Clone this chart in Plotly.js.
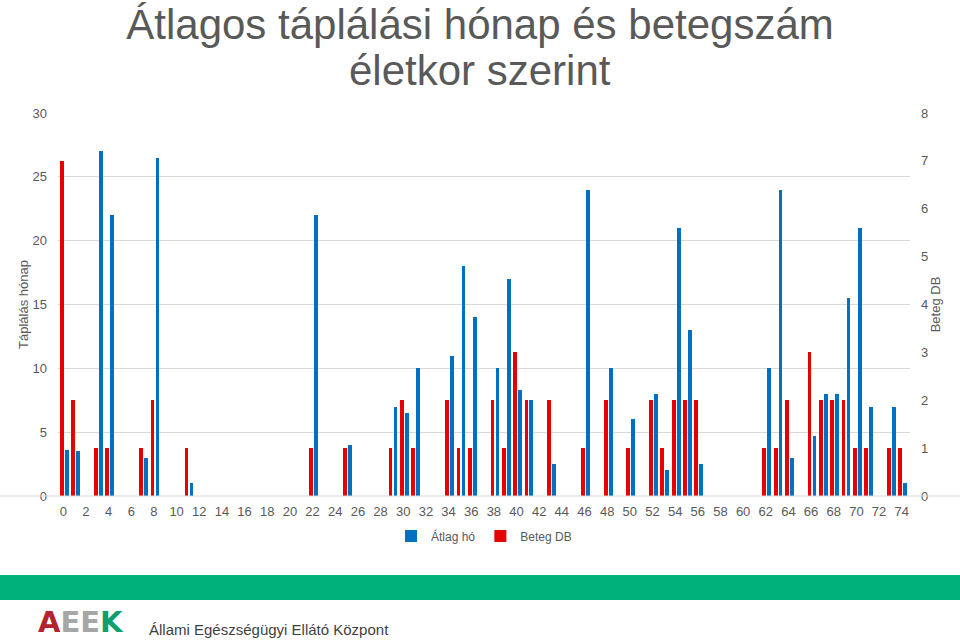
<!DOCTYPE html>
<html>
<head>
<meta charset="utf-8">
<script src="https://cdn.plot.ly/plotly-3.0.1.min.js"></script>
<style>
html,body{margin:0;padding:0;background:#fff;}
#chart{width:960px;height:640px;}
</style>
</head>
<body>
<div id="chart"></div>
<script>
// Ages (életkor)
const ages = [0,1,3,4,7,8,11,22,25,29,30,31,34,35,36,38,39,40,41,43,46,48,50,52,53,54,55,56,62,63,64,66,67,68,69,70,71,73,74];
// Átlag hó (left axis)
const atlagHo = [3.6,3.5,27,22,3,26.5,1,22,4,7,6.5,10,11,18,14,10,17,8.33,7.5,2.5,24,10,6,8,2,21,13,2.5,10,24,3,4.67,8,8,15.5,21,7,7,1];
// Beteg DB (right axis)
const betegDb = [7,2,1,1,1,2,1,1,1,1,2,1,2,1,1,2,1,3,2,2,1,2,1,2,1,2,2,2,1,1,2,3,2,2,2,1,1,1,1];
const xTicks = [];
for (let t = 0; t <= 74; t += 2) xTicks.push(t);

const W = 960, H = 640, L = 58, R = 50, T = 113, B = 144;
const pw = W - L - R, ph = H - T - B;
const px = x => (x - L) / pw;
const py = y => (H - B - y) / ph;

const gray = '#595959';
const font = 'Liberation Sans, Arial, sans-serif';

const traces = [
  {type:'bar', name:'Átlag hó', x:ages, y:atlagHo, yaxis:'y', marker:{color:'#0070C0'},
   width:0.33, offset:0.145, hoverinfo:'x+y'},
  {type:'bar', name:'Beteg DB', x:ages, y:betegDb, yaxis:'y2', marker:{color:'#E80000'},
   width:0.33, offset:-0.295, hoverinfo:'x+y'}
];

const layout = {
  width: W, height: H,
  margin: {l:L, r:R, t:T, b:B},
  paper_bgcolor:'#fff', plot_bgcolor:'#fff',
  font: {family: font, color: gray, size: 13},
  title: {text:'Átlagos táplálási hónap és betegszám',
          font:{family:font, size:42, color:gray}, x:0.5, xanchor:'center',
          y:0.9617, yanchor:'middle', yref:'container', automargin:false},
  showlegend: true,
  legend: {orientation:'h', x:0.5, xanchor:'center', y:py(536), yanchor:'middle',
           font:{size:12, color:gray}, traceorder:'normal', itemwidth:30},
  bargap: 0,
  xaxis: {type:'linear', range:[-0.47, 74.73], tickvals:xTicks, ticktext:xTicks.map(String),
          showgrid:false, zeroline:false, showline:false, ticks:'', ticklabelstandoff:6,
          tickfont:{size:13, color:gray}, fixedrange:true},
  yaxis: {range:[0,30], dtick:5, tick0:0, showgrid:true, gridcolor:'#D9D9D9', gridwidth:1,
          zeroline:false, showline:false, ticks:'', ticklabelstandoff:10, tickfont:{size:13, color:gray},
          title:{text:'Táplálás hónap', font:{size:13, color:gray}, standoff:0}},
  yaxis2: {range:[0,8], dtick:1, overlaying:'y', side:'right', showgrid:false,
           zeroline:false, showline:false, ticks:'', ticklabelstandoff:10, tickfont:{size:13, color:gray},
           title:{text:'Beteg DB', font:{size:13, color:gray}, standoff:3}},
  shapes: [
    {type:'rect', xref:'paper', yref:'paper', x0:px(-2), x1:px(W+2), y0:py(575), y1:py(600),
     fillcolor:'#00B27A', line:{width:0}, layer:'above'},
    {type:'line', xref:'paper', yref:'paper', x0:px(0), x1:px(W), y0:py(496), y1:py(496),
     line:{color:'#D9D9D9', width:1}}
  ],
  annotations: [
    {xref:'paper', yref:'paper', x:px(480), y:py(71), xanchor:'center', yanchor:'middle', showarrow:false,
     text:'életkor szerint', font:{family:font, size:42, color:gray}},
    {xref:'paper', yref:'paper', x:px(36), y:py(622), xanchor:'left', yanchor:'middle', showarrow:false,
     text:'<b><span style="color:#B3232E">A</span><span style="color:#A6A6A6">EE</span><span style="color:#0E9F6E">K</span></b>',
     font:{family:'DejaVu Sans, sans-serif', size:29}},
    {xref:'paper', yref:'paper', x:px(147), y:py(629), xanchor:'left', yanchor:'middle', showarrow:false,
     text:'Állami Egészségügyi Ellátó Központ', font:{family:font, size:15, color:'#3F3F3F'}}
  ]
};

Plotly.newPlot('chart', traces, layout, {displayModeBar:false, staticPlot:true});
</script>
</body>
</html>
